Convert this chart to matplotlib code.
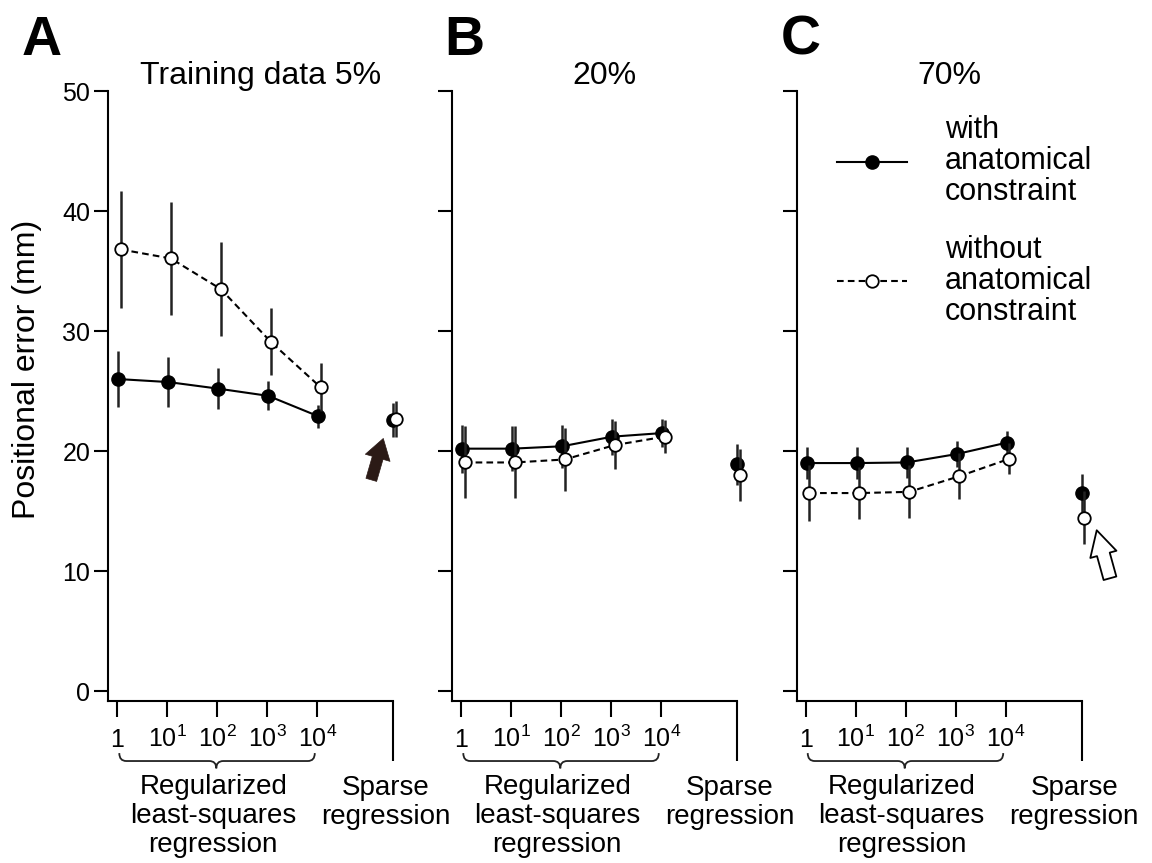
import numpy as np
import matplotlib
matplotlib.use('Agg')
import matplotlib.pyplot as plt
from matplotlib.patches import FancyArrowPatch, PathPatch
from matplotlib.path import Path
from matplotlib.transforms import blended_transform_factory

plt.rcParams['font.family'] = ['Liberation Sans', 'DejaVu Sans']
plt.rcParams['mathtext.fontset'] = 'custom'
plt.rcParams['mathtext.rm'] = 'Liberation Sans'

# regularization strengths 1 .. 10^4, then sparse regression
tick_labels = ['1', r'$\mathregular{10^{1}}$', r'$\mathregular{10^{2}}$',
               r'$\mathregular{10^{3}}$', r'$\mathregular{10^{4}}$']
panel_letters = ['A', 'B', 'C']
panel_titles = ['Training data 5%', '20%', '70%']

# with anatomical constraint (filled)
with_mean = [[26.0, 25.75, 25.2, 24.6, 22.9],
             [20.2, 20.2, 20.4, 21.2, 21.5],
             [19.0, 19.0, 19.05, 19.75, 20.7]]
with_err = [[2.3, 2.1, 1.7, 1.2, 0.95],
            [2.0, 1.9, 1.8, 1.5, 1.2],
            [1.3, 1.3, 1.3, 1.1, 1.0]]
with_sparse = [22.6, 18.9, 16.5]
with_sparse_err = [1.4, 1.7, 1.6]

# without anatomical constraint (open)
without_mean = [[36.8, 36.05, 33.5, 29.1, 25.3],
                [19.05, 19.05, 19.3, 20.5, 21.2],
                [16.5, 16.5, 16.6, 17.9, 19.35]]
without_err = [[4.9, 4.7, 3.9, 2.8, 2.0],
               [3.0, 3.0, 2.6, 2.0, 1.4],
               [2.3, 2.2, 2.2, 1.9, 1.3]]
without_sparse = [22.7, 18.0, 14.45]
without_sparse_err = [1.5, 2.2, 2.2]

reg_pos = np.arange(5)
sparse_pos = 5.52


def no_clip(container):
    for art in container.get_children():
        art.set_clip_on(False)


fig = plt.figure(figsize=(11.52, 8.63), dpi=100)
lefts = [0.0940, 0.3926, 0.6916]
letter_x = [0.019, 0.386, 0.678]

axes = []
for i in range(3):
    ax = fig.add_axes([lefts[i], 0.1881, 0.2474, 0.7064])
    axes.append(ax)

    eb_w = ax.errorbar(reg_pos + 0.02, with_mean[i], yerr=with_err[i], fmt='o-',
                       color='black', ecolor='#222222', elinewidth=1.8, lw=1.5,
                       ms=9.5, mfc='black', mec='black', zorder=3)
    no_clip(ax.errorbar([sparse_pos], [with_sparse[i]], yerr=[with_sparse_err[i]],
                        fmt='o', color='black', ecolor='#222222', elinewidth=1.8,
                        ms=9.5, mfc='black', mec='black', zorder=3))
    eb_o = ax.errorbar(reg_pos + 0.07, without_mean[i], yerr=without_err[i], fmt='o',
                       ls=(0, (3.2, 2)), color='black', ecolor='#222222', elinewidth=1.8,
                       lw=1.5, ms=9, mfc='white', mec='black', mew=1.3, zorder=4)
    no_clip(ax.errorbar([sparse_pos + 0.05], [without_sparse[i]],
                        yerr=[without_sparse_err[i]], fmt='o', color='black',
                        ecolor='#222222', elinewidth=1.8, ms=9, mfc='white',
                        mec='black', mew=1.3, zorder=4))

    ax.set_ylim(-0.8, 50)
    ax.set_xlim(-0.18, sparse_pos)
    ax.spines['top'].set_visible(False)
    ax.spines['right'].set_visible(False)
    for s in ['left', 'bottom']:
        ax.spines[s].set_linewidth(1.5)

    ax.set_yticks(np.arange(0, 51, 10))
    ax.tick_params(axis='y', length=10, width=1.5, labelsize=18, pad=3)
    if i > 0:
        ax.set_yticklabels([])

    ax.set_xticks(list(reg_pos) + [sparse_pos])
    ax.set_xticklabels(tick_labels + [''])
    ax.tick_params(axis='x', length=11.5, width=1.5, labelsize=18, pad=21.5)
    for lab in ax.get_xticklabels():
        lab.set_verticalalignment('baseline')
    ax.xaxis.get_major_ticks()[-1].tick1line.set_markersize(43)

    ax.set_title(panel_titles[i], fontsize=23, x=0.535, pad=4.3)
    fig.text(letter_x[i], 0.9363, panel_letters[i], fontsize=40, fontweight='bold',
             va='baseline')

    # curly brace under the regularized ticks
    tr = blended_transform_factory(ax.transData, ax.transAxes)
    x0, xm, x1 = reg_pos[0] + 0.04, reg_pos[2] - 0.02, reg_pos[-1] - 0.05
    yt, ym, yb = -0.086, -0.099, -0.111
    c = 0.14
    verts = [(x0, yt), (x0, ym), (x0 + c, ym), (xm - c, ym), (xm, ym), (xm, yb),
             (xm, ym), (xm + c, ym), (x1 - c, ym), (x1, ym), (x1, yt)]
    codes = [Path.MOVETO, Path.CURVE3, Path.CURVE3, Path.LINETO, Path.CURVE3, Path.CURVE3,
             Path.CURVE3, Path.CURVE3, Path.LINETO, Path.CURVE3, Path.CURVE3]
    ax.add_patch(PathPatch(Path(verts, codes), fill=False, lw=1.3, color='#222222',
                           transform=tr, clip_on=False))

    # va='baseline' on multi-line text anchors the last line
    ax.text(reg_pos[2] - 0.08, -0.248, 'Regularized\nleast-squares\nregression',
            transform=tr, ha='center', va='baseline', fontsize=20, linespacing=1.14)
    ax.text(sparse_pos - 0.15, -0.2023, 'Sparse\nregression', transform=tr,
            ha='center', va='baseline', fontsize=20, linespacing=1.14)

    if i == 2:
        leg = ax.legend(handles=[eb_w[0], eb_o[0]],
                        labels=['with\nanatomical\nconstraint',
                                'without\nanatomical\nconstraint'],
                        loc='upper left', bbox_to_anchor=(0.14, 0.96), frameon=False,
                        fontsize=22, handlelength=2.3, handletextpad=1.25,
                        labelspacing=0.9, borderpad=0, borderaxespad=0)
        for t in leg.get_texts():
            t.set_linespacing(1.04)

# arrows pointing at the sparse regression results
axA, axC = axes[0], axes[2]
arrA = FancyArrowPatch((sparse_pos - 0.44, without_sparse[0] - 5.1),
                       (sparse_pos - 0.20, without_sparse[0] - 1.65),
                       arrowstyle='simple,head_length=1.45,head_width=1.85,tail_width=0.8',
                       mutation_scale=10, fc='#2b1a16', ec='#2b1a16', lw=0.5,
                       shrinkA=0, shrinkB=0, clip_on=False, zorder=5)
axA.add_patch(arrA)
arrC = FancyArrowPatch((sparse_pos + 0.565, without_sparse[2] - 5.05),
                       (sparse_pos + 0.30, without_sparse[2] - 1.05),
                       arrowstyle='simple,head_length=1.8,head_width=1.95,tail_width=0.95',
                       mutation_scale=10, fc='white', ec='black', lw=1.3,
                       shrinkA=0, shrinkB=0, clip_on=False, zorder=5)
axC.add_patch(arrC)

fig.text(0.0234, 0.5724, 'Positional error (mm)', rotation=90, ha='center',
         va='center', fontsize=23)

fig.savefig('out.png', dpi=100)
